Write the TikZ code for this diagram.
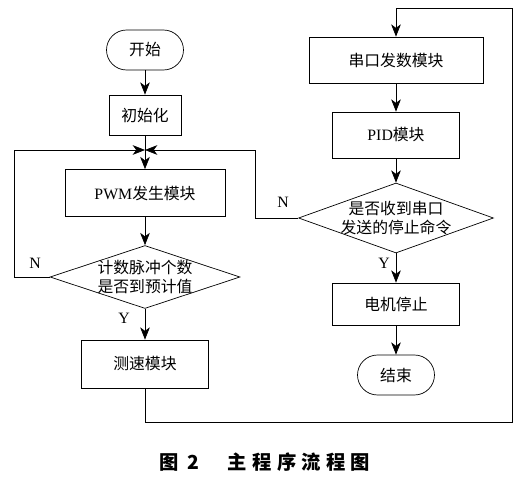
\documentclass[tikz,border=0pt]{standalone}
\usepackage{fontspec}
\setmainfont{Liberation Serif}
\newfontfamily\cjk{Noto Sans CJK SC}
\usepackage{tikz}
\usetikzlibrary{arrows.meta,shapes.geometric}
\tikzset{
	->, % every line ends in an arrow
	>={Stealth[length=7pt,width=5.5pt,inset=2pt]},
	line width=0.75pt,
	proc/.style={draw, rectangle, minimum height=0.92cm, font=\cjk\fontsize{9}{11}\selectfont},
	term/.style={draw, rectangle, rounded corners=0.4cm, minimum width=1.54cm, minimum height=0.8cm, font=\cjk\fontsize{9}{11}\selectfont},
	decision/.style={draw, diamond, inner sep=0pt},
	dtext/.style={align=center, font=\cjk\fontsize{9}{11}\selectfont},
	yn/.style={font=\fontsize{9}{11}\selectfont},
}

\begin{document}
\begin{tikzpicture}[x=0.02cm, y=-0.02cm]
	\useasboundingbox (0,0) rectangle (525,480);

	% left column
	\node[term] (start) at (145,50) {开始};
	\node[proc, minimum width=1.44cm, minimum height=0.8cm] (init) at (145,115) {初始化};
	\node[proc, minimum width=3.2cm, minimum height=0.94cm] (pwm) at (145,193) {{\rmfamily PWM}发生模块};
	\node[decision, minimum width=3.8cm, minimum height=1.26cm] (chk1) at (145,277) {};
	\node[dtext] (chk1t) at (chk1) {计数脉冲个数\\是否到预计值};
	\node[proc, minimum width=2.54cm, minimum height=0.96cm] (speed) at (145,364) {测速模块};

	% right column
	\node[proc, minimum width=3.48cm] (uart) at (396,60) {串口发数模块};
	\node[proc, minimum width=2.54cm] (pid) at (396,135) {{\rmfamily PID}模块};
	\node[decision, minimum width=3.9cm, minimum height=1.4cm] (chk2) at (396,218) {};
	\node[dtext] (chk2t) at (chk2) {是否收到串口\\发送的停止命令};
	\node[proc, minimum width=2.54cm, minimum height=0.84cm] (stop) at (396,304) {电机停止};
	\node[term] (end) at (396,375) {结束};

	\coordinate (join) at (145,150);
	\coordinate (lft) at (14,150);
	\coordinate (rgt) at (255,150);
	\coordinate (btm) at (512,422);
	\coordinate (top) at (396,8);

	\draw	(start) edge (init)
			(init) edge (pwm)
			(pwm) edge (chk1)
			(chk1) edge node[yn, left=0.18cm, pos=0.3] (y1) {Y} (speed)
			(uart) edge (pid)
			(pid) edge (chk2)
			(chk2) edge node[yn, left=0cm, pos=0.35] (y2) {Y} (stop)
			(stop) edge (end);

	\draw (chk1.west) -| (lft) -- (join);
	\draw (chk2.west) -| (rgt) -- (join);
	\draw (speed.south) |- (btm) |- (top) -- (uart);

	\node[yn] (n1) at (35,263) {N};
	\node[yn] (n2) at (283,202) {N};

	\node[font=\cjk\bfseries\fontsize{11}{13}\selectfont] (cap) at (265,462)
		{图\hspace{5pt}2\hspace{16pt}主\hspace{3pt}程\hspace{3pt}序\hspace{3pt}流\hspace{3pt}程\hspace{3pt}图};
\end{tikzpicture}
\end{document}
